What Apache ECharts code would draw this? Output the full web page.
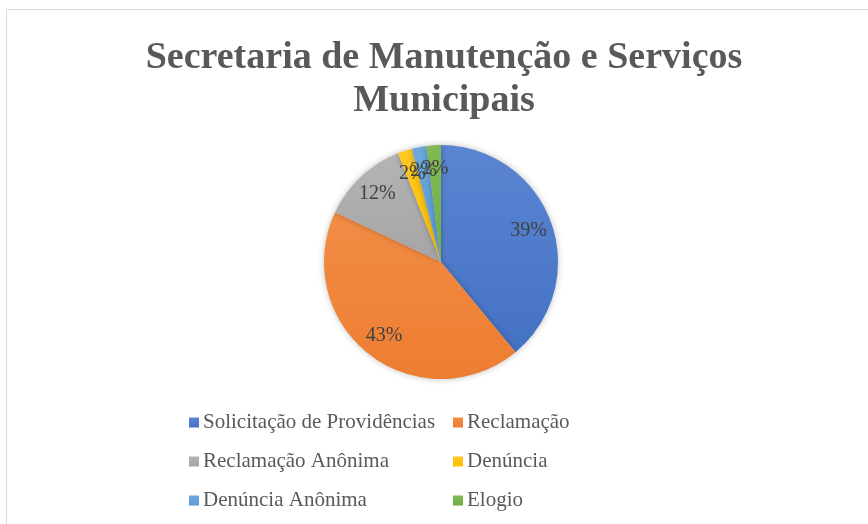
<!DOCTYPE html>
<html>
<head>
<meta charset="utf-8">
<script src="https://cdn.jsdelivr.net/npm/echarts@6/dist/echarts.min.js"></script>
<style>
  html, body { margin: 0; padding: 0; background: #fff; }
  #chart { width: 868px; height: 524px; }
</style>
</head>
<body>
<div id="chart"></div>
<script>
// categorias e valores (percentuais)
var categorias = ['Solicitação de Providências', 'Reclamação', 'Reclamação Anônima', 'Denúncia', 'Denúncia Anônima', 'Elogio'];
var valores = [39, 43, 12, 2, 2, 2];
var cores = ['#4472C4', '#ED7D31', '#A5A5A5', '#FFC000', '#5B9BD5', '#70AD47'];
var coresClaras = ['#5b85d2', '#f28c45', '#b4b4b4', '#ffc822', '#6ca8dc', '#7fba55'];
var coluna1 = [categorias[0], categorias[2], categorias[4]];
var coluna2 = [categorias[1], categorias[3], categorias[5]];
var titulo = 'Secretaria de Manutenção e Serviços\nMunicipais';

var fonte = '"Liberation Serif", "Times New Roman", serif';

var dadosPizza = [];
var dadosRotulo = [];
for (var i = 0; i < categorias.length; i++) {
  dadosPizza.push({
    name: categorias[i],
    value: valores[i],
    itemStyle: {
      color: {
        type: 'linear', x: 0, y: 0, x2: 0, y2: 1,
        colorStops: [{ offset: 0, color: coresClaras[i] }, { offset: 1, color: cores[i] }]
      }
    }
  });
  dadosRotulo.push({ name: categorias[i], value: valores[i] });
}

var chart = echarts.init(document.getElementById('chart'));
var legendaBase = {
  orient: 'vertical',
  top: 411,
  padding: 0,
  itemWidth: 10,
  itemHeight: 10,
  itemGap: 16,
  icon: 'rect',
  textStyle: { fontFamily: fonte, fontSize: 21, color: '#595959', lineHeight: 23, padding: [0, 0, 0, -1] }
};

var option = {
  backgroundColor: '#fff',
  color: cores,
  legend: [
    Object.assign({}, legendaBase, { left: 189, data: coluna1 }),
    Object.assign({}, legendaBase, { left: 453, data: coluna2 })
  ],
  graphic: [
    {
      type: 'rect',
      shape: { x: 6.5, y: 9.5, width: 900, height: 600 },
      style: { fill: 'none', stroke: '#d9d9d9', lineWidth: 1 },
      silent: true
    },
    {
      // título centrado em x=444 como no original
      type: 'text',
      x: 444,
      y: 37,
      silent: true,
      style: {
        text: titulo,
        align: 'center',
        verticalAlign: 'top',
        fontFamily: fonte,
        fontSize: 38,
        fontWeight: 'bold',
        fill: '#595959',
        lineHeight: 43
      }
    }
  ],
  series: [
    {
      type: 'pie',
      center: [441, 262],
      radius: [0, 117],
      startAngle: 90,
      clockwise: true,
      data: dadosPizza,
      label: { show: false },
      labelLine: { show: false },
      itemStyle: { shadowBlur: 6, shadowColor: 'rgba(0,0,0,0.25)' },
      emphasis: { disabled: true },
      animation: false
    },
    {
      // série transparente só para posicionar os rótulos mais para fora
      type: 'pie',
      center: [441, 262],
      radius: [0, 180],
      startAngle: 90,
      clockwise: true,
      silent: true,
      data: dadosRotulo,
      itemStyle: { color: 'rgba(0,0,0,0)' },
      label: {
        show: true,
        position: 'inside',
        formatter: '{d}%',
        fontFamily: fonte,
        fontSize: 20,
        color: '#404040'
      },
      labelLayout: { hideOverlap: false },
      labelLine: { show: false },
      emphasis: { disabled: true },
      animation: false
    }
  ]
};
chart.setOption(option);
</script>
</body>
</html>
